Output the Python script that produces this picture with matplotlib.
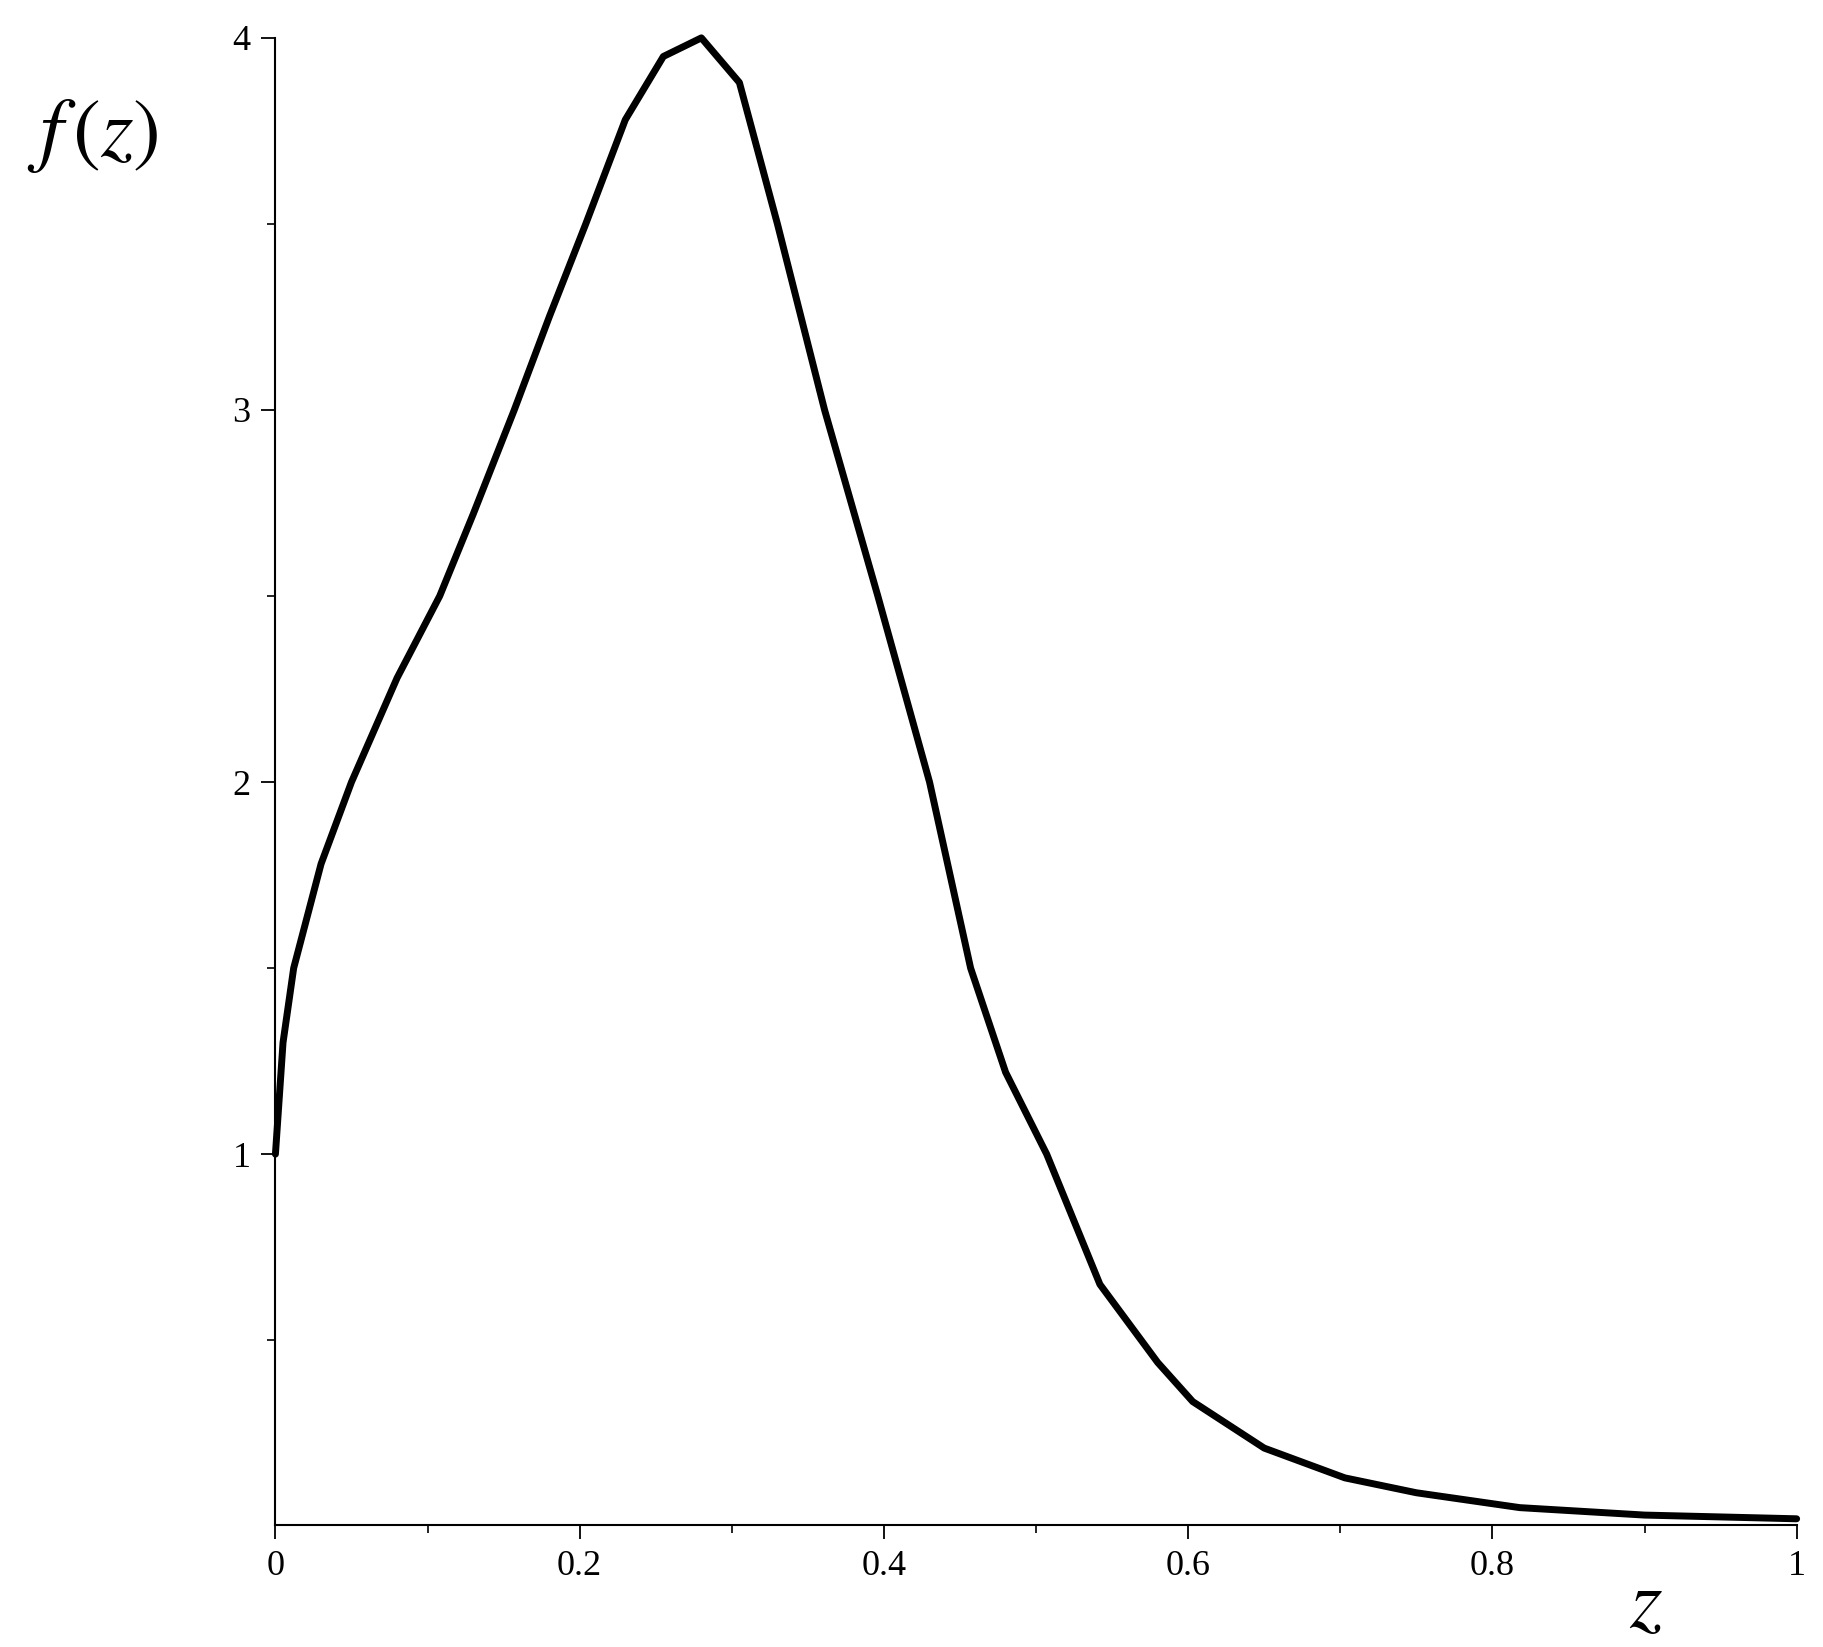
import matplotlib
matplotlib.use("Agg")
import matplotlib.pyplot as plt
import numpy as np

# values
z_vals = [0, 0.005, 0.012, 0.03, 0.05, 0.08, 0.108, 0.13, 0.157, 0.18, 0.204,
          0.23, 0.255, 0.28, 0.305, 0.33, 0.361, 0.396, 0.43, 0.457, 0.48,
          0.507, 0.542, 0.58, 0.603, 0.65, 0.703, 0.75, 0.818, 0.9, 1.0]
f_vals = [1.0, 1.3, 1.5, 1.78, 2.0, 2.28, 2.5, 2.72, 3.0, 3.25, 3.5,
          3.78, 3.95, 4.0, 3.88, 3.5, 3.0, 2.5, 2.0, 1.5, 1.22,
          1.0, 0.65, 0.44, 0.335, 0.21, 0.13, 0.09, 0.05, 0.03, 0.02]
x_ticks = [0, 0.2, 0.4, 0.6, 0.8, 1]
x_labels = ["0", "0.2", "0.4", "0.6", "0.8", "1"]
y_ticks = [1, 2, 3, 4]

plt.rcParams["font.family"] = ["Liberation Serif", "DejaVu Serif"]

fig = plt.figure(figsize=(18.24, 16.47), dpi=100)
ax = fig.add_axes([0.151, 0.074, 0.834, 0.903])

ax.plot(z_vals, f_vals, color="black", linewidth=5, solid_joinstyle="round",
        solid_capstyle="round", clip_on=False)

ax.set_xlim(0, 1)
ax.set_ylim(0.003, 4.0)
ax.set_xticks(x_ticks)
ax.set_xticklabels(x_labels)
ax.set_xticks(np.arange(0, 1.01, 0.1), minor=True)
ax.set_yticks(y_ticks)
ax.set_yticks([0.5, 1.5, 2.5, 3.5], minor=True)

for side in ("top", "right"):
    ax.spines[side].set_visible(False)
for side in ("left", "bottom"):
    ax.spines[side].set_linewidth(1.5)

ax.tick_params(which="major", length=10, width=1.3, labelsize=26, pad=8)
ax.tick_params(which="minor", length=6, width=1.2)

fig.text(0.015, 0.905, r"$f\,(z)$", fontsize=60, family="serif",
         math_fontfamily="stix")
fig.text(0.893, 0.012, r"$z$", fontsize=60, math_fontfamily="stix")

fig.savefig("out.png", dpi=100, facecolor="white")
